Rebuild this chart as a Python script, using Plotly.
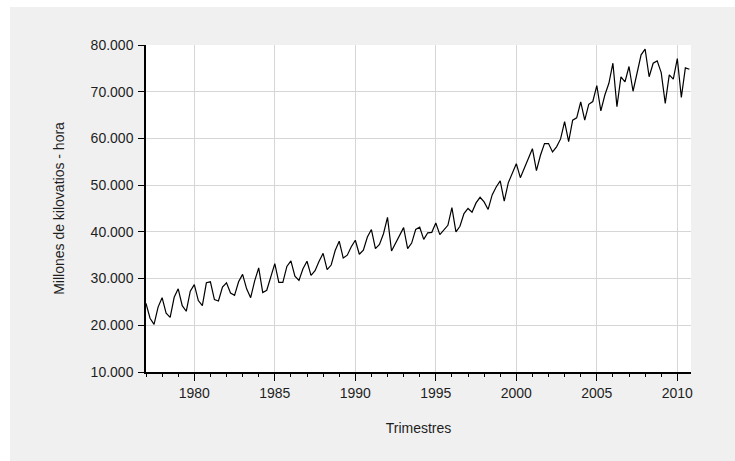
import plotly.graph_objects as go

# Quarterly electricity consumption, millions of kWh (1977Q1 - 2010Q4)
start_year = 1977
quarters_per_year = 4
consumo = [
    24700, 21500, 20200, 23900,   # 1977
    25900, 22600, 21700, 26000,   # 1978
    27800, 24200, 23000, 27300,   # 1979
    28700, 25300, 24200, 29100,   # 1980
    29300, 25500, 25200, 28200,   # 1981
    29100, 26900, 26400, 29300,   # 1982
    30900, 27800, 25900, 29500,   # 1983
    32300, 27000, 27500, 30300,   # 1984
    33200, 29200, 29200, 32600,   # 1985
    33800, 30500, 29600, 32100,   # 1986
    33700, 30700, 31700, 33700,   # 1987
    35400, 31900, 32900, 36000,   # 1988
    38000, 34400, 35000, 36800,   # 1989
    38200, 35200, 36100, 38900,   # 1990
    40500, 36400, 37300, 39600,   # 1991
    43100, 35900, 37600, 39400,   # 1992
    40900, 36400, 37600, 40500,   # 1993
    41000, 38400, 39800, 39900,   # 1994
    41900, 39400, 40500, 41400,   # 1995
    45200, 40000, 41200, 43900,   # 1996
    45000, 44200, 46200, 47400,   # 1997
    46400, 44800, 47900, 49600,   # 1998
    50900, 46600, 50500, 52400,   # 1999
    54600, 51600, 53600, 55400,   # 2000
    57800, 53100, 56400, 58900,   # 2001
    58900, 57100, 58200, 59900,   # 2002
    63600, 59300, 63900, 64400,   # 2003
    67800, 63900, 67300, 67900,   # 2004
    71300, 65900, 69300, 71800,   # 2005
    76100, 66800, 73200, 72100,   # 2006
    75400, 70100, 73900, 77900,   # 2007
    79100, 73200, 76100, 76600,   # 2008
    74100, 67500, 73600, 72700,   # 2009
    77100, 68800, 75100, 74800,   # 2010
]
fechas = [start_year + i / quarters_per_year for i in range(len(consumo))]

y_ticks = [10000, 20000, 30000, 40000, 50000, 60000, 70000, 80000]
x_ticks = [1980, 1985, 1990, 1995, 2000, 2005, 2010]

font_family = "Liberation Sans, Arial, sans-serif"
grid_color = "#d6d6d6"
panel_color = "#f0f0f0"
text_color = "#1e1e1e"

fig = go.Figure()
fig.add_trace(go.Scatter(
    x=fechas, y=consumo, mode="lines",
    line=dict(color="black", width=1.2),
    showlegend=False, hoverinfo="x+y",
))

fig.update_layout(
    width=735, height=461,
    margin=dict(l=146, r=44, t=45, b=89),
    paper_bgcolor=panel_color,
    plot_bgcolor="white",
    separators=",.",
    font=dict(family=font_family, size=14, color=text_color),
    shapes=[
        # thin white border at the top and left of the panel
        dict(type="rect", xref="paper", yref="paper",
             x0=-0.3, x1=1.2, y0=1 + 38 / 327, y1=1.2,
             fillcolor="white", line=dict(width=0), layer="below"),
        dict(type="rect", xref="paper", yref="paper",
             x0=-0.3, x1=-136 / 545, y0=-0.4, y1=1.2,
             fillcolor="white", line=dict(width=0), layer="below"),
    ],
)

fig.update_xaxes(
    range=[1977, 2010.85],
    tickmode="array", tickvals=x_ticks,
    ticks="outside", ticklen=7, tickcolor="black", tickwidth=1,
    showline=True, linecolor="black", linewidth=1.5,
    showgrid=True, gridcolor=grid_color, gridwidth=1,
    zeroline=False,
    minor=dict(ticks="outside", ticklen=3, tickcolor="black",
               dtick=1, tick0=1977, showgrid=False),
    tickfont=dict(size=14, color=text_color),
    title=dict(text="Trimestres", font=dict(size=14, color=text_color), standoff=24),
)

fig.update_yaxes(
    range=[10000, 80000],
    tickmode="array", tickvals=y_ticks, tickformat=",d",
    ticks="outside", ticklen=6, tickcolor="black", tickwidth=1,
    showline=True, linecolor="black", linewidth=1.5,
    showgrid=True, gridcolor=grid_color, gridwidth=1,
    zeroline=False,
    tickfont=dict(size=14, color=text_color),
    ticklabelstandoff=2,
    title=dict(text="Millones de kilovatios - hora",
               font=dict(size=14, color=text_color), standoff=23),
)

fig.write_html("out.html")
